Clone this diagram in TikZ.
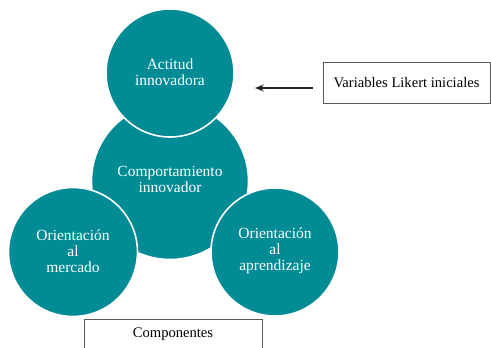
\documentclass[tikz,border=0pt]{standalone}
\usepackage{fontspec}
\setmainfont{Liberation Serif}
\usetikzlibrary{arrows.meta}
\definecolor{teal1}{RGB}{0,139,149}
\definecolor{boxgray}{RGB}{90,90,90}
\begin{document}
\begin{tikzpicture}[x=1pt,y=-1pt,
  bubble/.style={circle,fill=teal1,draw=white,line width=1.6pt,inner sep=0pt},
  bubbletext/.style={text=white,align=center,font=\fontsize{15.5}{16}\selectfont},
  label box/.style={draw=boxgray,line width=0.8pt,fill=white,inner sep=0pt},
  boxtext/.style={font=\fontsize{14.6}{16}\selectfont}]
\useasboundingbox (0,0) rectangle (491,348);
\clip (0,0) rectangle (491,348);
\node[bubble,minimum size=157pt] (mid) at (170,181) {};
\node[bubble,minimum size=128pt] (top) at (170,73) {};
\node[bubble,minimum size=129pt] (left) at (73,252) {};
\node[bubble,minimum size=128pt] (right) at (275,252) {};
\node[bubbletext] (toptext) at (170,72) {Actitud\\innovadora};
\node[bubbletext] (midtext) at (170,179) {Comportamiento\\innovador};
\node[bubbletext] (lefttext) at (73,251) {Orientación\\al\\mercado};
\node[bubbletext] (righttext) at (275,251) {Orientación\\al\\aprendizaje};
\node[label box,boxtext,minimum width=167pt,minimum height=41pt] (likert) at (406.5,82.5) {Variables Likert iniciales};
\node[label box,minimum width=178pt,minimum height=40pt,anchor=north] (comp) at (173,319) {};
\node[boxtext] (comptext) at (173,334) {Componentes};
\coordinate (arrowstart) at (313,88);
\coordinate (arrowend) at (255,88);
\draw[-{Stealth[length=9pt,width=7pt]},line width=1.3pt,black!85] (arrowstart) -- (arrowend);
\end{tikzpicture}
\end{document}
